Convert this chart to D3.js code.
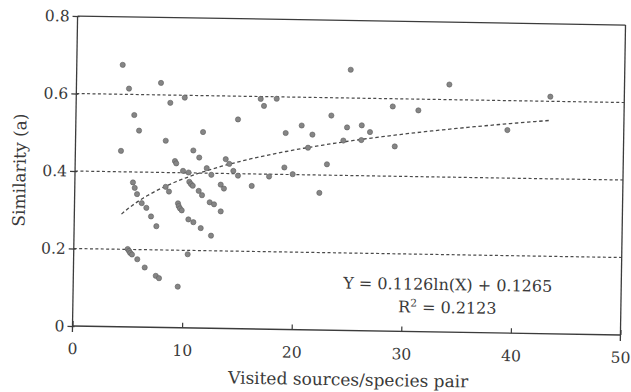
<!DOCTYPE html>
<html>
<head>
<meta charset="utf-8">
<script src="https://cdn.jsdelivr.net/npm/d3@7"></script>
<style>
  html, body { margin: 0; padding: 0; background: #fff; }
  svg { display: block; }
  text { font-family: "DejaVu Serif", serif; fill: #3a3a3a; }
</style>
</head>
<body>
<svg id="chart" width="631" height="392"></svg>
<script>
// ---- data ----
const sourcesX = [4.19,4.80,7.71,8.59,9.90,5.32,5.78,8.23,4.16,9.10,9.22,9.85,5.30,5.47,5.69,6.13,6.56,7.00,7.50,8.29,
  8.60,9.44,9.51,9.63,9.79,10.41,10.36,10.44,10.60,10.76,11.31,11.62,13.31,13.61,16.14,12.33,12.73,13.35,10.87,11.55,
  12.50,10.40,4.92,5.05,5.16,5.32,5.81,6.50,7.52,7.82,9.54,16.83,17.14,18.29,14.79,11.62,19.16,20.61,10.76,11.31,
  13.73,14.06,12.01,12.44,14.44,14.87,17.71,19.09,19.86,21.22,25.0,34.02,28.89,31.23,23.30,21.60,24.75,26.09,26.85,24.43,
  26.07,29.13,22.97,43.25,39.38,22.32];
const similarityY = [0.676,0.615,0.631,0.580,0.594,0.547,0.507,0.482,0.454,0.430,0.424,0.405,0.373,0.359,0.343,0.320,0.308,0.286,0.261,0.363,
  0.351,0.321,0.314,0.308,0.303,0.280,0.401,0.377,0.371,0.367,0.354,0.343,0.371,0.361,0.369,0.325,0.320,0.302,0.273,0.258,
  0.239,0.190,0.201,0.196,0.191,0.187,0.175,0.154,0.133,0.127,0.106,0.594,0.576,0.595,0.540,0.506,0.507,0.527,0.458,0.440,
  0.437,0.425,0.413,0.396,0.407,0.395,0.394,0.418,0.401,0.470,0.673,0.639,0.580,0.571,0.554,0.504,0.524,0.530,0.513,0.490,
  0.492,0.477,0.428,0.612,0.524,0.354];
const xTicks = [0, 10, 20, 30, 40, 50];
const yTicks = [0, 0.2, 0.4, 0.6, 0.8];
const yTickLabels = ["0", "0.2", "0.4", "0.6", "0.8"];
const refLines = [0.2, 0.4, 0.6];
const fitCoef = [0.1126, 0.1265];     // Y = a ln(X) + b
const fitRange = [4.3, 43.2];
const eqLines = ["Y = 0.1126ln(X) + 0.1265", "R2 = 0.2123"];

// ---- layout ----
const x0 = 72.5, x1 = 620.5, yB = 326, yT = 16;
const x = d3.scaleLinear().domain([0, 50]).range([x0, x1]);
const y = d3.scaleLinear().domain([0, 0.8]).range([yB, yT]);

const svg = d3.select("#chart");
const g = svg.append("g").attr("transform", `rotate(0.94, ${x0}, ${yB})`);

const ink = "#3c3c3c";

// reference dashed lines
g.selectAll("line.ref").data(refLines).join("line")
  .attr("x1", x(0)).attr("x2", x(50))
  .attr("y1", d => y(d)).attr("y2", d => y(d))
  .attr("stroke", "#4a4a4a").attr("stroke-width", 1.2)
  .attr("stroke-dasharray", "3,2.4");

// fit curve
const fitPts = d3.range(0, 121).map(i => {
  const xv = fitRange[0] + (fitRange[1] - fitRange[0]) * i / 120;
  return [xv, fitCoef[0] * Math.log(xv) + fitCoef[1]];
});
g.append("path")
  .attr("d", d3.line().x(d => x(d[0])).y(d => y(d[1]))(fitPts))
  .attr("fill", "none").attr("stroke", "#4a4a4a").attr("stroke-width", 1.3)
  .attr("stroke-dasharray", "3.5,2.6");

// frame
g.append("line").attr("x1", x0).attr("x2", x1).attr("y1", yT).attr("y2", yT).attr("stroke", ink).attr("stroke-width", 1.3);
g.append("line").attr("x1", x1).attr("x2", x1).attr("y1", yT).attr("y2", yB + 6).attr("stroke", ink).attr("stroke-width", 1.3);

// y axis
const yAxis = d3.axisLeft(y).tickValues(yTicks).tickFormat((d, i) => yTickLabels[i]).tickSize(5).tickPadding(3);
const ya = g.append("g").attr("transform", `translate(${x0},0)`).call(yAxis);
ya.select(".domain").remove();
ya.append("line").attr("x1", 0).attr("x2", 0).attr("y1", yT).attr("y2", yB + 6).attr("stroke", ink).attr("stroke-width", 1.3);
ya.selectAll(".tick line").attr("stroke", ink).attr("stroke-width", 1.2).attr("x1", 2).attr("x2", -5);
ya.selectAll(".tick text").attr("font-size", 15.5).attr("fill", "#3a3a3a")
  .attr("font-family", "DejaVu Serif, serif");

// x axis
const xAxis = d3.axisBottom(x).tickValues(xTicks).tickSize(0).tickPadding(17);
const xa = g.append("g").attr("transform", `translate(0,${yB})`).call(xAxis);
xa.select(".domain").remove();
xa.append("line").attr("x1", x0).attr("x2", x1).attr("y1", 0).attr("y2", 0).attr("stroke", ink).attr("stroke-width", 1.3);
xa.selectAll(".tick line").attr("stroke", ink).attr("stroke-width", 1.2).attr("y1", 0).attr("y2", -5);
xa.selectAll(".tick text").attr("font-size", 15.5).attr("fill", "#3a3a3a")
  .attr("font-family", "DejaVu Serif, serif");

// points
const pts = sourcesX.map((v, i) => [v, similarityY[i]]);
g.selectAll("circle.pt").data(pts).join("circle")
  .attr("class", "pt")
  .attr("cx", d => x(d[0])).attr("cy", d => y(d[1]))
  .attr("r", 2.6)
  .attr("fill", "#858585").attr("stroke", "#5f5f5f").attr("stroke-width", 0.6);

// equation
const eq = g.append("g").attr("text-anchor", "middle");
eq.append("text").attr("x", 447).attr("y", 284).attr("font-size", 16).text(eqLines[0]);
const t2 = eq.append("text").attr("x", 447).attr("y", 307).attr("font-size", 16);
t2.append("tspan").text("R");
t2.append("tspan").attr("font-size", 10.5).attr("dy", -6).text("2");
t2.append("tspan").attr("dy", 6).text(" = 0.2123");

// axis titles
g.append("text").attr("x", 349).attr("y", 381).attr("text-anchor", "middle")
  .attr("font-size", 17).text("Visited sources/species pair");
g.append("text").attr("transform", `translate(23,${(yT + yB) / 2}) rotate(-90)`)
  .attr("text-anchor", "middle").attr("font-size", 17).text("Similarity (a)");
</script>
</body>
</html>
